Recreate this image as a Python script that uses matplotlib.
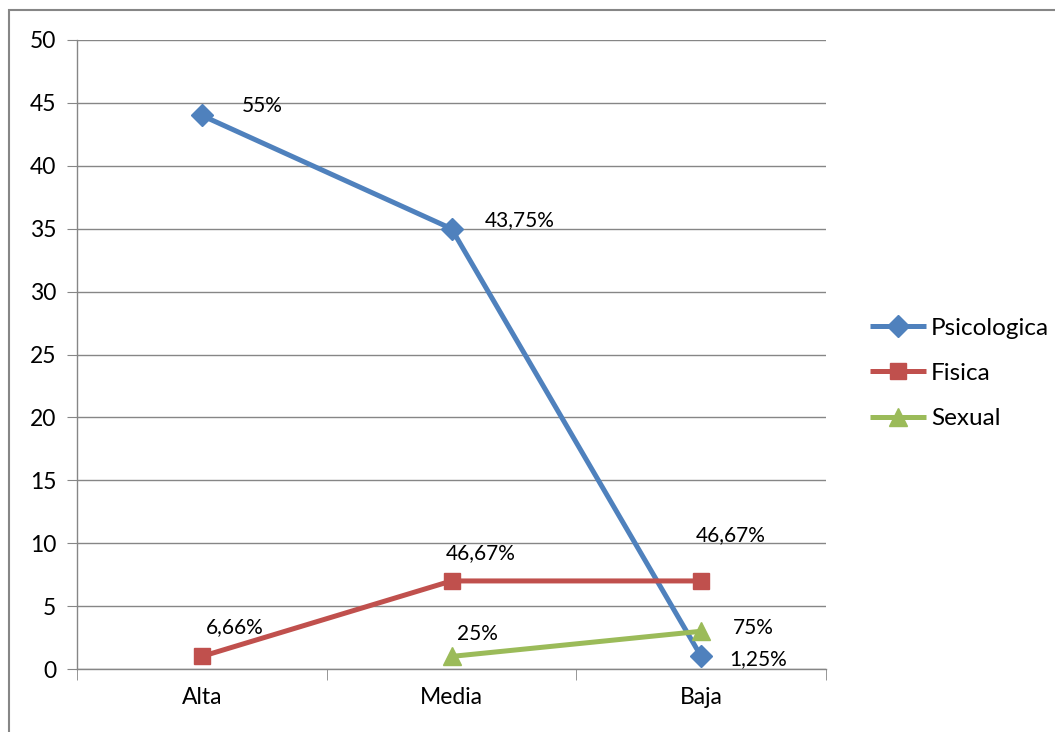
import numpy as np
import matplotlib.pyplot as plt
from matplotlib.patches import Rectangle

plt.rcParams["font.family"] = ["Lato", "DejaVu Sans"]

# Datos
categorias = ["Alta", "Media", "Baja"]
psicologica = [44, 35, 1]
fisica = [1, 7, 7]
sexual = [np.nan, 1, 3]

etiq_psicologica = ["55%", "43,75%", "1,25%"]
etiq_fisica = ["6,66%", "46,67%", "46,67%"]
etiq_sexual = ["", "25%", "75%"]

series = [
    ("Psicologica", psicologica, etiq_psicologica, "#4F81BD", "D", 11),
    ("Fisica", fisica, etiq_fisica, "#C0504D", "s", 12),
    ("Sexual", sexual, etiq_sexual, "#9BBB59", "^", 13),
]

# desplazamientos de las etiquetas (puntos)
offsets = {
    "Psicologica": [(29, 7), (24, 6), (20, -2)],
    "Fisica": [(3, 21), (-4, 20), (-4, 33)],
    "Sexual": [(0, 0), (4, 16), (23, 2)],
}

fig = plt.figure(figsize=(10.55, 7.32), dpi=100)
ax = fig.add_axes([77 / 1055, 1 - 669 / 732, (826 - 77) / 1055, (669 - 40) / 732])

x = np.arange(len(categorias))
for nombre, vals, etiqs, color, marker, ms in series:
    ax.plot(x, vals, color=color, lw=3.6, marker=marker, ms=ms, label=nombre,
            solid_capstyle="butt", zorder=3)
    for i, (v, t) in enumerate(zip(vals, etiqs)):
        if t:
            ax.annotate(t, (x[i], v), xytext=offsets[nombre][i], textcoords="offset points",
                        ha="left", va="center", fontsize=15, color="black", zorder=4)

ax.set_xlim(-0.5, 2.5)
ax.set_ylim(0, 50)
ax.set_yticks(np.arange(0, 51, 5))
ax.set_xticks(x, categorias)
ax.set_xticks([-0.5, 0.5, 1.5, 2.5], minor=True)
ax.grid(axis="y", color="#868686", lw=1)
ax.set_axisbelow(True)

for s in ["top", "right"]:
    ax.spines[s].set_visible(False)
for s in ["left", "bottom"]:
    ax.spines[s].set_color("#868686")
    ax.spines[s].set_linewidth(1)

ax.tick_params(axis="y", labelsize=16.5, length=7, color="#868686", pad=8)
ax.tick_params(axis="x", which="major", length=0, labelsize=16.5, pad=13)
ax.tick_params(axis="x", which="minor", length=8, color="#868686")

ax.legend(loc="center left", bbox_to_anchor=(1.03, 0.47), frameon=False, fontsize=17.5,
          handlelength=2.3, handletextpad=0.2, labelspacing=1.0)

# marco
fig.patches.append(Rectangle((8.5 / 1055, -0.1), 1.2, 1.1 - 9.5 / 732,
                             transform=fig.transFigure, fill=False,
                             edgecolor="#868686", lw=1.5))

fig.savefig("out.png", dpi=100)
